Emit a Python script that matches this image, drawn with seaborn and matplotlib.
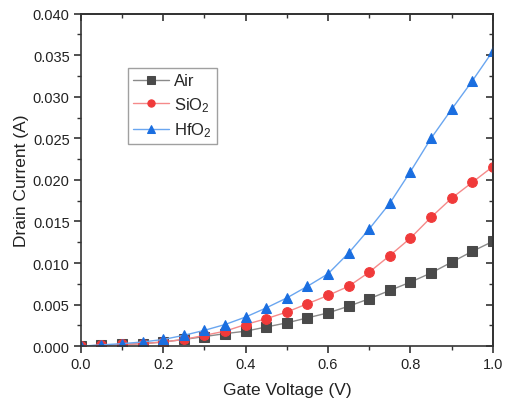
import numpy as np
import pandas as pd
import matplotlib
matplotlib.use("Agg")
import matplotlib.pyplot as plt
import seaborn as sns
from matplotlib.ticker import MultipleLocator

voltage = [0.0, 0.05, 0.1, 0.15, 0.2, 0.25, 0.3, 0.35, 0.4, 0.45, 0.5,
           0.55, 0.6, 0.65, 0.7, 0.75, 0.8, 0.85, 0.9, 0.95, 1.0]
air = [0.0, 0.0001, 0.0002, 0.0003, 0.0005, 0.0008, 0.00115, 0.0015, 0.0018, 0.0023, 0.0028,
       0.0034, 0.0040, 0.0048, 0.0057, 0.0067, 0.0077, 0.0088, 0.0101, 0.0114, 0.0126]
sio2 = [0.0, 0.0001, 0.0002, 0.0003, 0.0005, 0.0008, 0.0013, 0.0018, 0.0026, 0.0033, 0.0041,
        0.0051, 0.0061, 0.0072, 0.0089, 0.0109, 0.0130, 0.0155, 0.0178, 0.0197, 0.0216]
hfo2 = [0.0, 0.00015, 0.0003, 0.0005, 0.0008, 0.0013, 0.0019, 0.0026, 0.0035, 0.0046, 0.0058,
        0.0072, 0.0087, 0.0112, 0.0141, 0.0172, 0.0210, 0.0250, 0.0285, 0.0319, 0.0355]
labels = ["Air", "SiO$_2$", "HfO$_2$"]

sns.set_theme(style="ticks")
plt.rcParams['font.family'] = ['Liberation Sans', 'DejaVu Sans']
plt.rcParams['mathtext.fontset'] = 'custom'
plt.rcParams['mathtext.rm'] = 'Liberation Sans'
plt.rcParams['mathtext.it'] = 'Liberation Sans'

fig = plt.figure(figsize=(5.05, 4.06), dpi=100)
ax = fig.add_axes([0.160, 0.145, 0.816, 0.819])

series = [
    (air, labels[0], "s", "#4a4a4a", "#8a8a8a"),
    (sio2, labels[1], "o", "#f03a3a", "#f58a8a"),
    (hfo2, labels[2], "^", "#1a6ee0", "#6aa6f0"),
]
for vals, lab, mk, mc, lc in series:
    df = pd.DataFrame({"V": voltage, "I": vals})
    sns.lineplot(data=df, x="V", y="I", ax=ax, color=lc, linewidth=1.0,
                 marker=mk, markersize=7, markerfacecolor=mc, markeredgecolor=mc,
                 label=lab)

ax.set_xlim(0, 1.0)
ax.set_ylim(0, 0.040)
ax.xaxis.set_major_locator(MultipleLocator(0.2))
ax.xaxis.set_minor_locator(MultipleLocator(0.1))
ax.yaxis.set_major_locator(MultipleLocator(0.005))
ax.yaxis.set_minor_locator(MultipleLocator(0.0025))
ax.xaxis.set_major_formatter(matplotlib.ticker.FormatStrFormatter("%.1f"))
ax.yaxis.set_major_formatter(matplotlib.ticker.FormatStrFormatter("%.3f"))

for s in ax.spines.values():
    s.set_color("#333333")
    s.set_linewidth(1.2)
ax.tick_params(which="major", direction="out", length=5, width=1.2, color="#333333",
               labelsize=10.5, labelcolor="#222222", pad=3)
ax.tick_params(which="minor", direction="out", length=3, width=1.0, color="#333333")

# inward ticks on top and right
ax2 = ax.secondary_xaxis("top")
ax2.xaxis.set_major_locator(MultipleLocator(0.2))
ax2.xaxis.set_minor_locator(MultipleLocator(0.1))
ax2.tick_params(which="major", direction="in", length=5, width=1.2, labeltop=False, color="#333333")
ax2.tick_params(which="minor", direction="in", length=3, width=1.0, color="#333333")
ay2 = ax.secondary_yaxis("right")
ay2.yaxis.set_major_locator(MultipleLocator(0.005))
ay2.yaxis.set_minor_locator(MultipleLocator(0.0025))
ay2.tick_params(which="major", direction="in", length=5, width=1.2, labelright=False, color="#333333")
ay2.tick_params(which="minor", direction="in", length=3, width=1.0, color="#333333")

ax.set_xlabel("Gate Voltage (V)", fontsize=12.5, color="#222222", labelpad=8)
ax.set_ylabel("Drain Current (A)", fontsize=12.5, color="#222222", labelpad=3)

leg = ax.legend(loc="upper left", bbox_to_anchor=(0.114, 0.835), borderaxespad=0,
                fontsize=12, frameon=True, fancybox=False, edgecolor="#888888",
                handlelength=2.2, borderpad=0.3, labelspacing=0.4, handletextpad=0.3,
                markerscale=0.75)
leg.get_frame().set_linewidth(1.0)

fig.savefig("out.png", dpi=100)
